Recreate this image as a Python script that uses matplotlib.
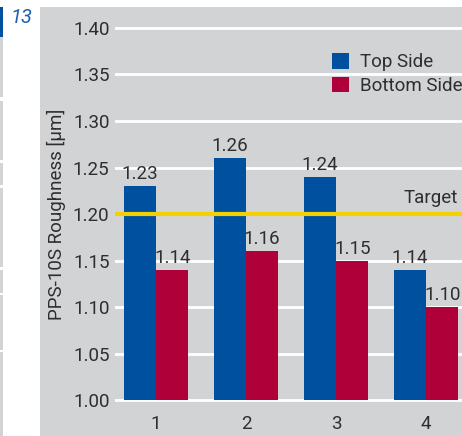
import numpy as np
import matplotlib.pyplot as plt
from matplotlib.patches import Rectangle

# data
samples = ["1", "2", "3", "4"]
top_side = [1.23, 1.26, 1.24, 1.14]
bottom_side = [1.14, 1.16, 1.15, 1.10]
target = 1.20
yticks = [1.00, 1.05, 1.10, 1.15, 1.20, 1.25, 1.30, 1.35, 1.40]

blue = "#0050a0"
red = "#b0003a"
grey = "#d2d3d5"
txt = "#2e2e2e"

plt.rcParams['font.family'] = ['Roboto', 'DejaVu Sans']

W, H = 462, 436
fig = plt.figure(figsize=(W / 100, H / 100), dpi=100, facecolor="white")

# page decoration: grey panel, figure number, side strip
fig.patches.append(Rectangle((40 / W, 0), 1 - 40 / W, 1 - 7 / H, transform=fig.transFigure,
                             facecolor=grey, edgecolor="none", zorder=-10))
fig.patches.append(Rectangle((0, 1 - 37 / H), 2.5 / W, 30 / H, transform=fig.transFigure,
                             facecolor="#0050a0", edgecolor="none", zorder=-10))
for y0, y1 in [(37, 97), (101, 160), (163, 185), (188, 267), (270, 293), (295, 350), (352, 436)]:
    fig.patches.append(Rectangle((0, 1 - y1 / H), 2.5 / W, (y1 - y0) / H, transform=fig.transFigure,
                                 facecolor=grey, edgecolor="none", zorder=-10))
fig.text(11 / W, 1 - 23 / H, "13", color="#1f5faf", fontsize=14.5, style="italic")

ax = fig.add_axes([115 / W, 1 - 408 / H, (W - 115) / W, 388 / H])
ax.set_facecolor("none")
for s in ax.spines.values():
    s.set_visible(False)

x = np.arange(1, len(samples) + 1)
w = 0.36
ax.bar(x - w / 2, np.array(top_side) - 1.0, w, bottom=1.0, color=blue, label="Top Side", zorder=3)
ax.bar(x + w / 2, np.array(bottom_side) - 1.0, w, bottom=1.0, color=red, label="Bottom Side", zorder=3)

for xi, v in zip(x - w / 2, top_side):
    ax.text(xi, v + 0.003, f"{v:.2f}", ha="center", va="bottom", fontsize=13.5, color=txt, zorder=4)
for xi, v in zip(x + w / 2, bottom_side):
    ax.text(xi, v + 0.003, f"{v:.2f}", ha="center", va="bottom", fontsize=13.5, color=txt, zorder=4)

ax.axhline(target, color="#f5d000", lw=3, zorder=4)
ax.text(4.36, target + 0.007, "Target", ha="right", va="bottom", fontsize=13.5, color=txt)

ax.set_yticks(yticks)
ax.set_yticklabels([f"{t:.2f}" for t in yticks], fontsize=13.5, color=txt)
ax.set_xticks(x)
ax.set_xticklabels(samples, fontsize=13.5, color=txt)
ax.tick_params(length=0, pad=4)
ax.tick_params(axis="x", pad=5)
ax.yaxis.grid(True, color="white", lw=2)
ax.set_axisbelow(True)
ax.set_xlim(1 - 41 / 90, 4 + 36 / 90)
ax.set_ylim(1.0 - 8 * 0.05 / 46.5, 1.40 + 8 * 0.05 / 46.5)

ax.set_ylabel("PPS-10S Roughness [μm]", fontsize=13.5, color=txt, labelpad=5)

ax.legend(loc="upper left", bbox_to_anchor=((332 - 115) / (W - 115), (408 - 53) / 388),
          frameon=False, fontsize=13.5, handlelength=0.9, handleheight=0.9,
          handletextpad=0.6, borderpad=0, borderaxespad=0, labelspacing=0.3,
          labelcolor=txt)

fig.savefig("out.png", dpi=100, facecolor="white")
